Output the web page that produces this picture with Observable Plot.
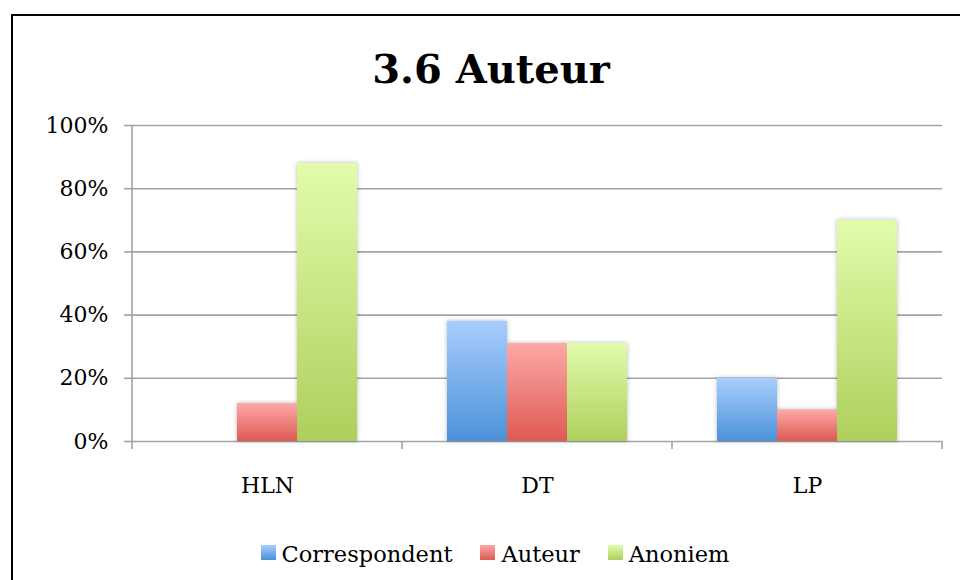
<!DOCTYPE html>
<html>
<head>
<meta charset="utf-8">
<script src="https://cdn.jsdelivr.net/npm/d3@7"></script>
<script src="https://cdn.jsdelivr.net/npm/@observablehq/plot@0.6"></script>
<style>
  html, body { margin: 0; padding: 0; background: #fff; }
  #wrap { position: relative; width: 960px; height: 580px; overflow: hidden; background: #fff; font-family: "DejaVu Serif", serif; }
  #frame { position: absolute; left: 11px; top: 14px; width: 2000px; height: 2000px; border: 2px solid #000; box-sizing: border-box; }
  #title { position: absolute; left: 0; top: 49px; width: 982px; text-align: center; font-size: 40px; line-height: 40px; font-weight: bold; color: #000; }
  #chart { position: absolute; left: 0; top: 112px; }
  #chart g[aria-label="bar"] { filter: drop-shadow(0px 0px 2px rgba(0,0,0,0.28)); }
  #legend { position: absolute; left: 0; top: 543px; width: 990px; display: flex; justify-content: center; font-size: 22.5px; line-height: 22px; color: #000; }
  .item { display: flex; align-items: flex-start; margin: 0 14px; }
  .sw { width: 15px; height: 15px; margin-top: 2px; margin-right: 6px; }
</style>
</head>
<body>
<div id="wrap">
  <div id="frame"></div>
  <div id="title">3.6 Auteur</div>
  <div id="chart"></div>
  <div id="legend"></div>
</div>
<script>
// ---- data ----
const groups = ["HLN", "DT", "LP"];
const series = ["Correspondent", "Auteur", "Anoniem"];
const correspondent = [0.00, 0.38, 0.20];
const auteur = [0.12, 0.31, 0.10];
const anoniem = [0.88, 0.31, 0.70];
const yTicks = [0, 0.2, 0.4, 0.6, 0.8, 1.0];

// gradient colours per series: [top, bottom]
const gradTop = ["#a9cdfd", "#fca9a7", "#e2fcab"];
const gradBottom = ["#4b91d8", "#de5a52", "#aecf5c"];

const seriesValues = [correspondent, auteur, anoniem];
const rows = [];
groups.forEach((g, gi) => {
  series.forEach((s, si) => {
    rows.push({group: g, series: s, value: seriesValues[si][gi], si});
  });
});

const gridColor = "#a3a3a3";

const chart = Plot.plot({
  width: 960,
  height: 400,
  marginLeft: 132,
  marginRight: 18,
  marginTop: 13,
  marginBottom: 71,
  style: {fontFamily: "DejaVu Serif, serif", fontSize: "22px", background: "transparent", color: "#000"},
  fx: {domain: groups, padding: 0, label: null},
  x: {domain: series, paddingInner: 0, paddingOuter: 0.75, axis: null},
  y: {domain: [0, 1], label: null},
  color: {type: "identity"},
  marks: [
    Plot.ruleY(yTicks, {stroke: gridColor, strokeWidth: 1.6}),
    Plot.barY(rows, {fx: "group", x: "series", y: "value", fill: d => `url(#grad${d.si})`}),
    Plot.axisY({ticks: yTicks, tickFormat: d3.format(".0%"), tickSize: 8, tickPadding: 16, stroke: gridColor, strokeWidth: 1.6, fill: "#000", fontSize: 22, label: null}),
    Plot.axisFx({anchor: "bottom", tickSize: 0, tickPadding: 36, fill: "#000", fontSize: 22, label: null})
  ]
});

// gradients
const svg = d3.select(chart);
const defs = svg.insert("defs", ":first-child");
series.forEach((s, i) => {
  const lg = defs.append("linearGradient").attr("id", `grad${i}`)
    .attr("x1", 0).attr("y1", 0).attr("x2", 0).attr("y2", 1);
  lg.append("stop").attr("offset", "0%").attr("stop-color", gradTop[i]);
  lg.append("stop").attr("offset", "100%").attr("stop-color", gradBottom[i]);
});

// category boundary ticks and vertical axis line, from the plot's own scales
const fx = chart.scale("fx");
const ys = chart.scale("y");
const y0 = ys.apply(0), y1 = ys.apply(1);
const bounds = [];
groups.forEach((g, i) => {
  bounds.push(fx.apply(g));
  if (i === groups.length - 1) bounds.push(fx.apply(g) + fx.bandwidth);
});
const ga = svg.append("g").attr("stroke", gridColor).attr("stroke-width", 1.6);
ga.selectAll("line.b").data(bounds).join("line")
  .attr("x1", d => d).attr("x2", d => d).attr("y1", y0).attr("y2", y0 + 8);
ga.append("line").attr("x1", bounds[0]).attr("x2", bounds[0]).attr("y1", y1).attr("y2", y0);

document.getElementById("chart").appendChild(chart);

// legend
const legend = d3.select("#legend");
series.forEach((s, i) => {
  const it = legend.append("div").attr("class", "item");
  it.append("div").attr("class", "sw")
    .style("background", `linear-gradient(to bottom, ${gradTop[i]}, ${gradBottom[i]})`);
  it.append("span").text(s);
});
</script>
</body>
</html>
